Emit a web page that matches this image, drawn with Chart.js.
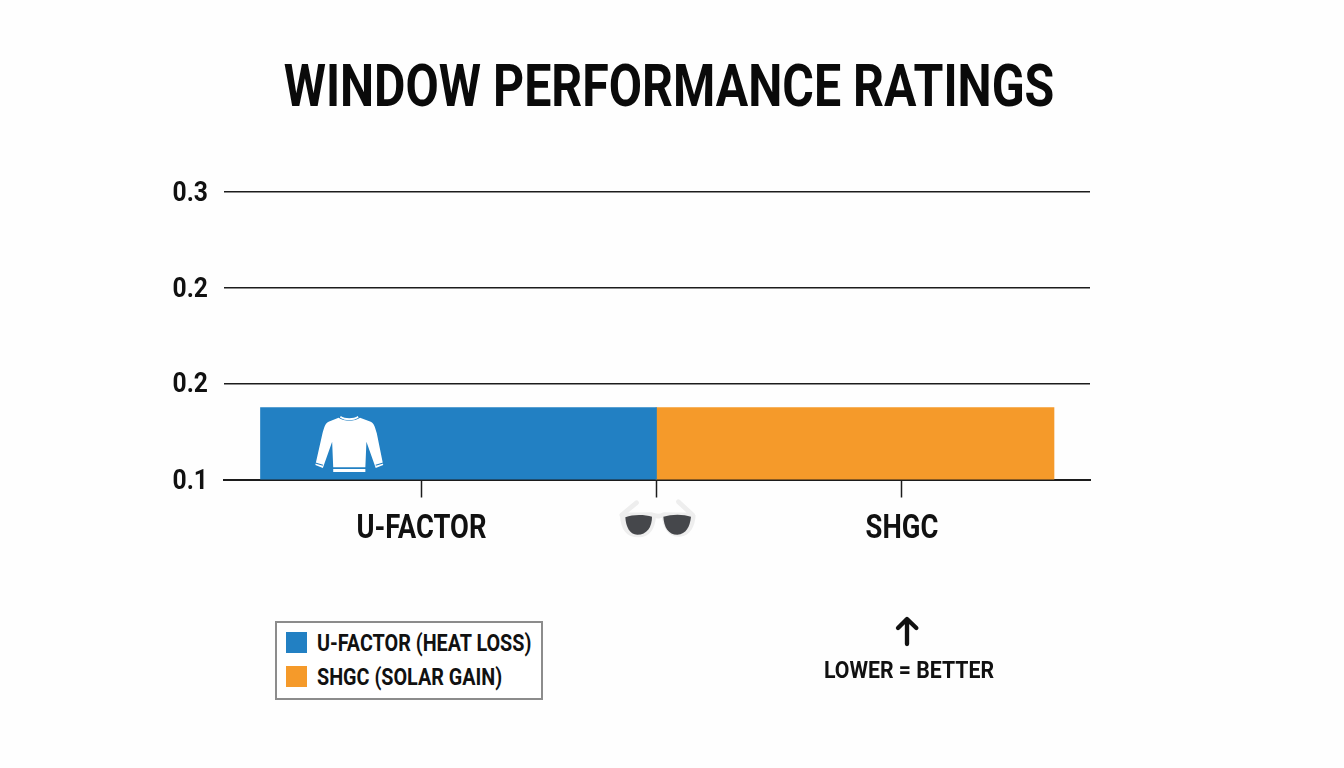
<!DOCTYPE html>
<html>
<head>
<meta charset="utf-8">
<title>Window Performance Ratings</title>
<script src="https://cdn.jsdelivr.net/npm/chart.js@4/dist/chart.umd.min.js"></script>
<style>
  html,body{margin:0;padding:0;background:#fefefe;}
  #wrap{position:relative;width:1344px;height:768px;overflow:hidden;}
  canvas{position:absolute;left:0;top:0;}
  .ov{position:absolute;}
  #legend{left:275px;top:621px;width:264px;height:75px;border:2px solid #8c8c8c;background:#fff;}
  .sw{position:absolute;left:9px;width:21px;height:21px;}
  .item{position:absolute;left:40px;font:bold 24px Roboto,sans-serif;color:#111;line-height:22px;white-space:nowrap;transform:scaleX(.823);transform-origin:left center;}
  #note{left:759px;top:656px;width:300px;text-align:center;font:bold 24px Roboto,sans-serif;color:#111;transform:scaleX(.885);}
</style>
</head>
<body>
<div id="wrap">
  <canvas id="c" width="1344" height="768"></canvas>

  <!-- iconos decorativos, em coords do recorte -->
  <svg class="ov" style="left:160px;top:370px" width="560" height="190" viewBox="0 0 1568 570" preserveAspectRatio="none">
    <path fill="#fff" d="M500 143 C515 155 545 155 560 143 L590 155 C600 160 603 175 607 190 L625 285 L604 294 L578 215 L575 292 L485 292 L482 215 L456 294 L435 285 L455 190 C459 175 462 160 472 155 Z"/>
    <path fill="#fff" d="M506 138 C518 147 542 147 554 138 L556 143 C540 153 520 153 504 143 Z"/>
    <rect x="485" y="297" width="90" height="9" fill="#fff"/>
    <path fill="none" stroke="#2280c3" stroke-width="3" d="M435 279 L456 286 M604 286 L625 279"/>
  </svg>
  <svg class="ov" style="left:600px;top:490px" width="110" height="60" viewBox="0 0 330 180">
    <path fill="none" stroke="#eeeeee" stroke-width="14" stroke-linecap="round" stroke-linejoin="round" d="M110 38 L65 75 L155 74 C175 80 180 80 192 74 L278 75 L235 35"/>
    <path fill="#eeeeee" d="M60 75 C62 120 80 142 115 142 C150 142 165 115 168 80 L185 80 C190 115 205 142 240 140 C270 138 285 110 287 75 Z"/>
    <path fill="#45474b" d="M76 82 C100 72 135 74 156 80 C156 112 140 134 112 134 C88 134 78 110 76 82 Z"/>
    <path fill="#45474b" d="M190 80 C215 72 250 72 273 80 C270 110 258 132 232 134 C205 134 192 112 190 80 Z"/>
  </svg>
  <svg class="ov" style="left:800px;top:600px" width="220" height="100" viewBox="0 0 660 300">
    <path fill="none" stroke="#111" stroke-width="13" stroke-linecap="round" stroke-linejoin="round" d="M321 132 L321 58 M294 84 L321 57 L349 84"/>
  </svg>

  <div id="legend" class="ov"></div>
  <div id="note" class="ov">LOWER = BETTER</div>
</div>

<script>
const seriesLabels=["U-FACTOR (HEAT LOSS)","SHGC (SOLAR GAIN)"];
const uFactor=[0.15];
const shgc=[0.15];
const colors=["#2280c3","#f59a2a"];
const yTicks=[0.1,0.1667,0.2333,0.3];
const yLabels=["0.1","0.2","0.2","0.3"];
const xTicks=[-0.0933,0.5,1.1185];
const xLabels=["U-FACTOR","","SHGC"];
const FONT='Roboto,sans-serif';
const INK="#1c1c1c";

// a fonte do original e condensada; aperta o texto do canvas na horizontal
const condense={
  id:"condense",
  beforeDraw(chart){
    const ctx=chart.ctx;
    if(ctx._squeezed) return;
    const fill=ctx.fillText;
    ctx.fillText=function(t,x,y){
      const isY=yLabels.includes(t); // rotulos do eixo y
      fill.call(ctx,t,x,isY?y+2:y,ctx.measureText(t).width*(isY?0.88:0.805));
    };
    ctx._squeezed=true;
  }
};

// eixo x linear para deixar os ticks fora do centro das barras, como no original
new Chart(document.getElementById("c"),{
  type:"bar",
  plugins:[condense],
  data:{
    datasets:[
      {label:seriesLabels[0],data:[{x:0,y:uFactor[0]}],backgroundColor:colors[0],borderWidth:0,barThickness:396,grouped:false},
      {label:seriesLabels[1],data:[{x:1,y:shgc[0]}],backgroundColor:colors[1],borderWidth:0,barThickness:398,grouped:false}
    ]
  },
  options:{
    responsive:false,
    animation:false,
    layout:{padding:{left:0,right:6,top:0,bottom:0}},
    plugins:{
      legend:{display:false},
      tooltip:{enabled:false},
      title:{
        display:true,
        text:"WINDOW PERFORMANCE RATINGS",
        color:"#0a0a0a",
        font:{family:FONT,size:60,weight:"bold",lineHeight:1},
        padding:{top:61,bottom:70.5}
      }
    },
    scales:{
      x:{
        type:"linear",
        offset:false,
        min:-0.5914,
        max:1.5927,
        afterBuildTicks:(s)=>{s.ticks=xTicks.map(v=>({value:v}));},
        afterFit:(s)=>{s.height=288.5;},
        border:{color:INK,width:2},
        grid:{offset:false,drawOnChartArea:false,drawTicks:true,tickLength:18,color:INK,tickWidth:1.5},
        ticks:{
          autoSkip:false,maxRotation:0,padding:12,color:"#111",
          font:{family:FONT,size:34,weight:"bold"},
          callback:(v,i)=>xLabels[i]
        }
      },
      y:{
        min:0.1,
        max:0.3,
        afterBuildTicks:(s)=>{s.ticks=yTicks.map(v=>({value:v}));},
        afterFit:(s)=>{s.width=224;},
        border:{display:false},
        grid:{color:INK,lineWidth:1.5,drawTicks:false},
        ticks:{
          padding:16,color:"#111",
          font:{family:FONT,size:28,weight:"bold"},
          callback:(v,i)=>yLabels[i]
        }
      },
      // reserva a margem direita sem deslocar o titulo
      spacer:{
        position:"right",
        display:true,
        afterFit:(s)=>{s.width=248;},
        border:{display:false},
        grid:{display:false},
        ticks:{display:false}
      }
    }
  }
});

const legendBox=document.getElementById("legend");
seriesLabels.forEach((t,i)=>{
  const top=9+i*34;
  const sw=document.createElement("div");
  sw.className="sw";
  sw.style.top=top+"px";
  sw.style.background=colors[i];
  legendBox.appendChild(sw);
  const el=document.createElement("div");
  el.className="item";
  el.style.top=top+"px";
  el.textContent=t;
  legendBox.appendChild(el);
});
</script>
</body>
</html>
